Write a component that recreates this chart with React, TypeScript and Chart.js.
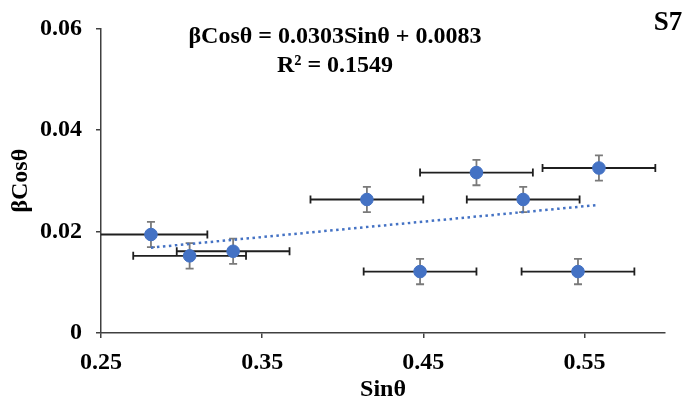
import React, { useEffect, useRef } from "react";
import { Chart, registerables } from "chart.js";

Chart.register(...registerables);

const sinTheta = [0.281, 0.305, 0.332, 0.415, 0.448, 0.483, 0.512, 0.546, 0.559];
const betaCos = [0.0194, 0.0152, 0.0161, 0.0263, 0.0121, 0.0316, 0.0263, 0.0121, 0.0325];
const xErr = [0.035, 0.035, 0.035, 0.035, 0.035, 0.035, 0.035, 0.035, 0.035];
const yErr = [0.0025, 0.0025, 0.0025, 0.0025, 0.0025, 0.0025, 0.0025, 0.0025, 0.0025];
const xTicks = [0.25, 0.35, 0.45, 0.55];
const yTicks = [0, 0.02, 0.04, 0.06];
const slope = 0.0303;
const intercept = 0.0083;
const equationText = "βCosθ = 0.0303Sinθ + 0.0083";
const r2Text = "R² = 0.1549";
const panelLabel = "S7";

const FONT = "'Liberation Serif', 'Times New Roman', serif";

export default function App() {
  const ref = useRef<HTMLCanvasElement | null>(null);

  useEffect(() => {
    if (!ref.current) return;
    const xMin = Math.min(...sinTheta);
    const xMax = Math.max(...sinTheta);
    const trend = [
      { x: xMin, y: slope * xMin + intercept },
      { x: xMax, y: slope * xMax + intercept },
    ];

    const errorBars = {
      id: "errorBars",
      beforeDatasetsDraw(chart: any) {
        const { ctx, chartArea, scales } = chart;
        const xs = scales.x;
        const ys = scales.y;
        ctx.save();
        ctx.beginPath();
        ctx.rect(chartArea.left, chartArea.top - 10, chartArea.right - chartArea.left, chartArea.bottom - chartArea.top + 20);
        ctx.clip();
        const cap = 4;
        for (let i = 0; i < sinTheta.length; i++) {
          const px = xs.getPixelForValue(sinTheta[i]);
          const py = ys.getPixelForValue(betaCos[i]);
          const x1 = xs.getPixelForValue(sinTheta[i] - xErr[i]);
          const x2 = xs.getPixelForValue(sinTheta[i] + xErr[i]);
          ctx.strokeStyle = "#1f1f1f";
          ctx.lineWidth = 1.8;
          ctx.beginPath();
          ctx.moveTo(x1, py);
          ctx.lineTo(x2, py);
          ctx.moveTo(x1, py - cap);
          ctx.lineTo(x1, py + cap);
          ctx.moveTo(x2, py - cap);
          ctx.lineTo(x2, py + cap);
          ctx.stroke();
          const y1 = ys.getPixelForValue(betaCos[i] - yErr[i]);
          const y2 = ys.getPixelForValue(betaCos[i] + yErr[i]);
          ctx.strokeStyle = "#7a7a7a";
          ctx.lineWidth = 1.8;
          ctx.beginPath();
          ctx.moveTo(px, y1);
          ctx.lineTo(px, y2);
          ctx.moveTo(px - cap, y1);
          ctx.lineTo(px + cap, y1);
          ctx.moveTo(px - cap, y2);
          ctx.lineTo(px + cap, y2);
          ctx.stroke();
        }
        ctx.restore();
      },
    };

    const labels = {
      id: "labels",
      afterDraw(chart: any) {
        const { ctx } = chart;
        ctx.save();
        ctx.fillStyle = "#000";
        ctx.textAlign = "center";
        ctx.textBaseline = "middle";
        ctx.font = `bold 24px ${FONT}`;
        ctx.fillText(equationText, 335, 37);
        ctx.fillText(r2Text, 335, 66);
        ctx.font = `bold 27px ${FONT}`;
        ctx.fillText(panelLabel, 668, 23);
        ctx.restore();
      },
    };

    const chart = new Chart(ref.current, {
      type: "scatter",
      data: {
        datasets: [
          {
            label: "data",
            data: sinTheta.map((x, i) => ({ x, y: betaCos[i] })),
            backgroundColor: "#4472C4",
            borderColor: "#4472C4",
            pointRadius: 6.3,
            pointHoverRadius: 6.3,
            order: 1,
          },
          {
            type: "line",
            label: "trend",
            data: trend,
            borderColor: "#4472C4",
            borderWidth: 2.5,
            borderDash: [2.5, 3.5],
            pointRadius: 0,
            fill: false,
            order: 0,
          } as any,
        ],
      },
      options: {
        animation: false,
        responsive: false,
        events: [],
        layout: { padding: { top: 22, right: 23, left: 0, bottom: 0 } },
        plugins: { legend: { display: false }, tooltip: { enabled: false } },
        scales: {
          x: {
            type: "linear",
            min: 0.25,
            max: 0.6,
            afterBuildTicks: (s: any) => {
              s.ticks = xTicks.map((v) => ({ value: v }));
            },
            afterFit: (s: any) => {
              s.height = 71;
            },
            ticks: {
              callback: (v: any) => Number(v).toFixed(2),
              font: { family: FONT, size: 24, weight: "bold" },
              color: "#000",
              padding: 10,
              maxRotation: 0,
            },
            grid: { drawOnChartArea: false, drawTicks: true, tickLength: 5, color: "#404040", lineWidth: 1.5 },
            border: { color: "#404040", width: 1.5 },
            title: {
              display: true,
              text: "Sinθ",
              font: { family: FONT, size: 24, weight: "bold" },
              color: "#000",
              padding: { top: 0, bottom: 0 },
            },
          },
          y: {
            type: "linear",
            min: 0,
            max: 0.06,
            afterBuildTicks: (s: any) => {
              s.ticks = yTicks.map((v) => ({ value: v }));
            },
            afterFit: (s: any) => {
              s.width = 101;
            },
            ticks: {
              callback: (v: any) => (Number(v) === 0 ? "0" : Number(v).toFixed(2)),
              font: { family: FONT, size: 24, weight: "bold" },
              color: "#000",
              padding: 14,
            },
            grid: { drawOnChartArea: false, drawTicks: true, tickLength: 5, color: "#404040", lineWidth: 1.5 },
            border: { color: "#404040", width: 1.5 },
            title: {
              display: true,
              text: "βCosθ",
              font: { family: FONT, size: 24, weight: "bold" },
              color: "#000",
              padding: { top: 6, bottom: 0 },
            },
          },
        },
      },
      plugins: [errorBars, labels],
    });
    return () => chart.destroy();
  }, []);

  return (
    <div style={{ position: "absolute", left: 0, top: 0, width: 688, height: 404, background: "#fff" }}>
      <canvas ref={ref} width={688} height={404} style={{ width: 688, height: 404 }} />
    </div>
  );
}
